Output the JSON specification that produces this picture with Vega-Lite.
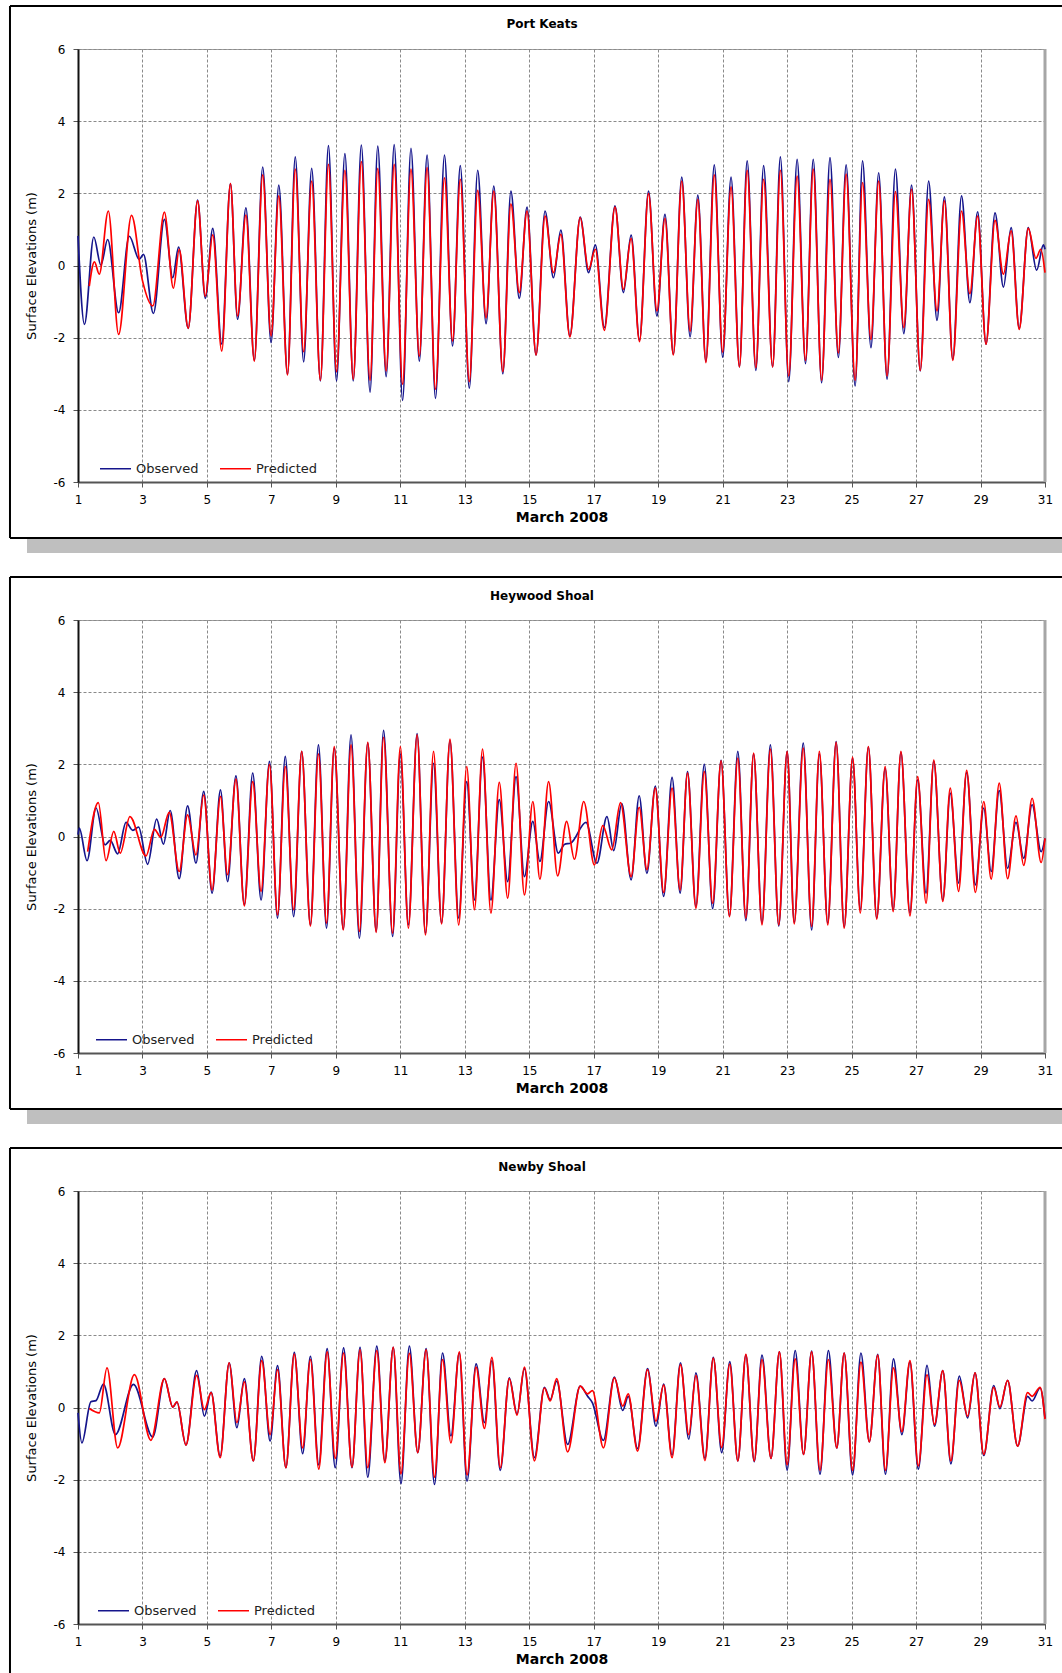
{
"$schema":"https://vega.github.io/schema/vega-lite/v6.json",
"background":"white",
"padding":{"left":8,"top":4,"right":0,"bottom":0},
"spacing":138,
"bounds":"flush",
"resolve":{"scale":{"color":"independent"},"legend":{"color":"independent"}},
"config":{"font":"DejaVu Sans","view":{"stroke":"#a0a0a0","strokeWidth":1},
"axis":{"grid":true,"labelFontSize":12,"labelColor":"#000","titleColor":"#000","tickSize":5,"tickColor":"#555","domainColor":"#555","domainWidth":2,"gridColor":"#8a8a8a","gridDash":[3,2],"gridWidth":1,"labelFlush":false,"labelOverlap":false,"labelExpr":"''+datum.value"},
"axisX":{"labelPadding":7,"titlePadding":5,"titleFontSize":14,"titleFontWeight":"bold"},
"axisY":{"labelPadding":8,"titlePadding":15,"titleFontSize":13,"titleFontWeight":"normal","domainColor":"#111"},
"legend":{"labelFontSize":13,"labelColor":"#222","symbolType":"stroke","symbolSize":961,"symbolStrokeWidth":1.5,"labelOffset":4,"columnPadding":18,"padding":0}},
"datasets":{
"pk":[{"d":1,"o":0.82},{"d":1.2,"o":-1.63},{"d":1.49,"o":0.79},{"d":1.71,"o":0.01},{"d":1.92,"o":0.72},{"d":2.26,"o":-1.31},{"d":2.59,"o":0.81},{"d":2.9,"o":0.17},{"d":3.03,"o":0.31},{"d":3.34,"o":-1.33},{"d":3.68,"o":1.28},{"d":3.94,"o":-0.34},{"d":4.12,"o":0.51},
{"d":1.35,"p":-0.57},{"d":1.51,"p":0.1},{"d":1.66,"p":-0.24},{"d":1.94,"p":1.51},{"d":2.26,"p":-1.91},{"d":2.66,"p":1.39},{"d":3.0,"p":-0.42},{"d":3.32,"p":-1.12},{"d":3.68,"p":1.48},{"d":3.96,"p":-0.63},{"d":4.14,"p":0.45},
{"d":4.42,"o":-1.74,"p":-1.74},{"d":4.71,"o":1.81,"p":1.79},{"d":4.95,"o":-0.91,"p":-0.85},{"d":5.18,"o":1.03,"p":0.85},{"d":5.46,"o":-2.18,"p":-2.37},{"d":5.73,"o":2.27,"p":2.27},{"d":5.95,"o":-1.49,"p":-1.4},{"d":6.21,"o":1.6,"p":1.4},{"d":6.47,"o":-2.63,"p":-2.65},{"d":6.73,"o":2.73,"p":2.51},{"d":6.99,"o":-2.14,"p":-1.95},{"d":7.23,"o":2.23,"p":1.93},{"d":7.5,"o":-3.02,"p":-3.03},{"d":7.74,"o":3.01,"p":2.67},{"d":8.0,"o":-2.67,"p":-2.39},{"d":8.25,"o":2.69,"p":2.34},{"d":8.52,"o":-3.2,"p":-3.18},{"d":8.77,"o":3.32,"p":2.8},{"d":9.02,"o":-3.2,"p":-2.94},{"d":9.28,"o":3.1,"p":2.64},{"d":9.54,"o":-3.2,"p":-3.15},{"d":9.79,"o":3.34,"p":2.88},{"d":10.06,"o":-3.51,"p":-3.18},{"d":10.3,"o":3.31,"p":2.69},{"d":10.56,"o":-3.08,"p":-2.92},{"d":10.81,"o":3.35,"p":2.8},{"d":11.07,"o":-3.74,"p":-3.29},{"d":11.33,"o":3.25,"p":2.67},{"d":11.59,"o":-2.65,"p":-2.51},{"d":11.83,"o":3.06,"p":2.71},{"d":12.09,"o":-3.68,"p":-3.43},{"d":12.37,"o":3.06,"p":2.43},{"d":12.62,"o":-2.23,"p":-2.09},{"d":12.86,"o":2.77,"p":2.39},{"d":13.14,"o":-3.4,"p":-3.22},{"d":13.4,"o":2.64,"p":2.08},{"d":13.66,"o":-1.61,"p":-1.45},{"d":13.9,"o":2.2,"p":2.06},{"d":14.18,"o":-3.0,"p":-2.94},{"d":14.43,"o":2.06,"p":1.71},{"d":14.69,"o":-0.91,"p":-0.75},{"d":14.93,"o":1.62,"p":1.51},{"d":15.21,"o":-2.48,"p":-2.48},{"d":15.49,"o":1.51,"p":1.37},{"d":15.75,"o":-0.34,"p":-0.2},{"d":15.98,"o":0.98,"p":0.86},{"d":16.26,"o":-1.95,"p":-1.98},{"d":16.58,"o":1.34,"p":1.33},{"d":16.84,"o":-0.2,"p":-0.11},{"d":17.05,"o":0.57,"p":0.45},{"d":17.33,"o":-1.72,"p":-1.8},{"d":17.66,"o":1.65,"p":1.62},{"d":17.92,"o":-0.75,"p":-0.66},{"d":18.16,"o":0.84,"p":0.75},{"d":18.42,"o":-2.07,"p":-2.11},{"d":18.7,"o":2.06,"p":1.99},{"d":18.96,"o":-1.4,"p":-1.26},{"d":19.21,"o":1.42,"p":1.31},{"d":19.47,"o":-2.46,"p":-2.48},{"d":19.73,"o":2.45,"p":2.34},{"d":19.99,"o":-1.98,"p":-1.82},{"d":20.23,"o":1.95,"p":1.83},{"d":20.48,"o":-2.66,"p":-2.69},{"d":20.74,"o":2.79,"p":2.51},{"d":21.0,"o":-2.54,"p":-2.4},{"d":21.26,"o":2.45,"p":2.18},{"d":21.52,"o":-2.81,"p":-2.81},{"d":21.76,"o":2.9,"p":2.64},{"d":22.03,"o":-2.91,"p":-2.83},{"d":22.27,"o":2.77,"p":2.39},{"d":22.55,"o":-2.81,"p":-2.81},{"d":22.79,"o":3.01,"p":2.64},{"d":23.05,"o":-3.22,"p":-3.06},{"d":23.31,"o":2.94,"p":2.48},{"d":23.57,"o":-2.72,"p":-2.63},{"d":23.81,"o":2.94,"p":2.67},{"d":24.07,"o":-3.25,"p":-3.18},{"d":24.33,"o":2.99,"p":2.39},{"d":24.59,"o":-2.55,"p":-2.42},{"d":24.83,"o":2.79,"p":2.53},{"d":25.11,"o":-3.34,"p":-3.18},{"d":25.34,"o":2.9,"p":2.3},{"d":25.6,"o":-2.28,"p":-2.05},{"d":25.84,"o":2.57,"p":2.34},{"d":26.1,"o":-3.15,"p":-3.06},{"d":26.36,"o":2.67,"p":2.05},{"d":26.62,"o":-1.89,"p":-1.72},{"d":26.86,"o":2.23,"p":2.11},{"d":27.13,"o":-2.92,"p":-2.91},{"d":27.39,"o":2.34,"p":1.83},{"d":27.65,"o":-1.52,"p":-1.26},{"d":27.88,"o":1.9,"p":1.79},{"d":28.14,"o":-2.6,"p":-2.63},{"d":28.41,"o":1.93,"p":1.51},{"d":28.67,"o":-1.03,"p":-0.78},{"d":28.91,"o":1.49,"p":1.37},{"d":29.17,"o":-2.18,"p":-2.18},{"d":29.45,"o":1.46,"p":1.25},{"d":29.71,"o":-0.6,"p":-0.24},{"d":29.95,"o":1.05,"p":0.96},{"d":30.2,"o":-1.74,"p":-1.77},{"d":30.48,"o":1.05,"p":1.03},
{"d":30.74,"o":-0.13},{"d":30.95,"o":0.57},{"d":31.0,"o":0.45},{"d":30.72,"p":0.2},{"d":30.87,"p":0.45},{"d":31.0,"p":-0.2}],
"hs":[{"d":1.0,"o":0.05},{"d":1.04,"o":0.23},{"d":1.28,"o":-0.67},{"d":1.56,"o":0.79},{"d":1.84,"o":-0.23},{"d":2.0,"o":-0.11},{"d":2.23,"o":-0.48},{"d":2.49,"o":0.39},{"d":2.7,"o":0.17},{"d":2.88,"o":0.26},{"d":3.16,"o":-0.77},{"d":3.44,"o":0.48},{"d":3.65,"o":-0.21},{"d":3.86,"o":0.72},
{"d":1.3,"p":-0.42},{"d":1.63,"p":0.94},{"d":1.87,"p":-0.67},{"d":2.11,"p":0.14},{"d":2.31,"p":-0.46},{"d":2.61,"p":0.55},{"d":3.11,"p":-0.54},{"d":3.37,"p":0.2},{"d":3.57,"p":-0.02},{"d":3.83,"p":0.67},
{"d":4.14,"o":-1.17,"p":-0.97},{"d":4.4,"o":0.85,"p":0.6},{"d":4.66,"o":-0.74,"p":-0.51},{"d":4.9,"o":1.25,"p":1.15},{"d":5.16,"o":-1.57,"p":-1.48},{"d":5.42,"o":1.29,"p":1.11},{"d":5.64,"o":-1.25,"p":-1.06},{"d":5.9,"o":1.68,"p":1.59},{"d":6.16,"o":-1.89,"p":-1.92},{"d":6.42,"o":1.76,"p":1.52},{"d":6.68,"o":-1.76,"p":-1.52},{"d":6.94,"o":2.08,"p":1.99},{"d":7.19,"o":-2.26,"p":-2.17},{"d":7.43,"o":2.22,"p":1.94},{"d":7.69,"o":-2.22,"p":-2.03},{"d":7.94,"o":2.36,"p":2.36},{"d":8.21,"o":-2.45,"p":-2.48},{"d":8.46,"o":2.54,"p":2.29},{"d":8.71,"o":-2.54,"p":-2.4},{"d":8.95,"o":2.45,"p":2.49},{"d":9.23,"o":-2.57,"p":-2.59},{"d":9.47,"o":2.82,"p":2.54},{"d":9.73,"o":-2.82,"p":-2.63},{"d":9.99,"o":2.59,"p":2.61},{"d":10.25,"o":-2.63,"p":-2.66},{"d":10.48,"o":2.94,"p":2.75},{"d":10.76,"o":-2.77,"p":-2.68},{"d":11.0,"o":2.29,"p":2.49},{"d":11.25,"o":-2.45,"p":-2.54},{"d":11.52,"o":2.85,"p":2.82},{"d":11.78,"o":-2.68,"p":-2.73},{"d":12.03,"o":2.03,"p":2.36},{"d":12.28,"o":-2.4,"p":-2.42},{"d":12.54,"o":2.66,"p":2.7},{"d":12.81,"o":-2.26,"p":-2.45},{"d":13.06,"o":1.52,"p":1.94},{"d":13.3,"o":-1.76,"p":-2.03},{"d":13.55,"o":2.2,"p":2.42},{"d":13.81,"o":-1.76,"p":-2.12},{"d":14.07,"o":1.02,"p":1.5},{"d":14.33,"o":-1.25,"p":-1.71},{"d":14.59,"o":1.66,"p":2.03},{"d":14.85,"o":-1.11,"p":-1.62},{"d":15.11,"o":0.42,"p":0.97},{"d":15.33,"o":-0.69,"p":-1.18},{"d":15.6,"o":0.97,"p":1.52},
{"d":15.9,"o":-0.46},{"d":16.09,"o":-0.22},{"d":16.29,"o":-0.18},{"d":16.76,"o":0.39},{"d":17.1,"o":-0.74},{"d":17.41,"o":0.55},{"d":17.62,"o":-0.39},{"d":17.87,"o":0.91},
{"d":15.88,"p":-1.09},{"d":16.16,"p":0.42},{"d":16.4,"p":-0.63},{"d":16.69,"p":0.97},{"d":17.02,"p":-0.79},{"d":17.28,"p":0.3},{"d":17.56,"p":-0.37},{"d":17.83,"p":0.94},
{"d":18.16,"o":-1.2,"p":-1.11},{"d":18.41,"o":1.13,"p":0.81},{"d":18.65,"o":-1.02,"p":-0.92},{"d":18.91,"o":1.4,"p":1.34},{"d":19.17,"o":-1.66,"p":-1.55},{"d":19.43,"o":1.64,"p":1.34},{"d":19.68,"o":-1.57,"p":-1.48},{"d":19.91,"o":1.8,"p":1.76},{"d":20.17,"o":-1.94,"p":-1.99},{"d":20.43,"o":2.0,"p":1.8},{"d":20.69,"o":-2.0,"p":-1.85},{"d":20.95,"o":2.11,"p":2.1},{"d":21.21,"o":-2.2,"p":-2.22},{"d":21.47,"o":2.36,"p":2.17},{"d":21.72,"o":-2.33,"p":-2.26},{"d":21.96,"o":2.29,"p":2.31},{"d":22.22,"o":-2.4,"p":-2.45},{"d":22.48,"o":2.54,"p":2.42},{"d":22.74,"o":-2.48,"p":-2.45},{"d":23.0,"o":2.36,"p":2.36},{"d":23.22,"o":-2.38,"p":-2.42},{"d":23.5,"o":2.59,"p":2.45},{"d":23.76,"o":-2.59,"p":-2.49},{"d":24.0,"o":2.29,"p":2.36},{"d":24.26,"o":-2.4,"p":-2.45},{"d":24.52,"o":2.63,"p":2.61},{"d":24.77,"o":-2.51,"p":-2.54},{"d":25.03,"o":2.17,"p":2.2},{"d":25.27,"o":-2.03,"p":-2.12},{"d":25.52,"o":2.48,"p":2.49},{"d":25.78,"o":-2.26,"p":-2.29},{"d":26.04,"o":1.89,"p":1.94},{"d":26.29,"o":-2.03,"p":-2.08},{"d":26.53,"o":2.33,"p":2.36},{"d":26.81,"o":-2.12,"p":-2.2},{"d":27.05,"o":1.57,"p":1.66},{"d":27.31,"o":-1.57,"p":-1.85},{"d":27.55,"o":2.08,"p":2.12},{"d":27.83,"o":-1.76,"p":-1.8},{"d":28.06,"o":1.2,"p":1.34},{"d":28.32,"o":-1.29,"p":-1.52},{"d":28.57,"o":1.77,"p":1.83},{"d":28.84,"o":-1.34,"p":-1.55},{"d":29.1,"o":0.79,"p":0.97},{"d":29.33,"o":-0.97,"p":-1.18},{"d":29.58,"o":1.27,"p":1.48},{"d":29.84,"o":-0.88,"p":-1.17},{"d":30.1,"o":0.39,"p":0.57},{"d":30.34,"o":-0.6,"p":-0.8},{"d":30.6,"o":0.88,"p":1.06},{"d":30.88,"o":-0.42,"p":-0.72},{"d":31.0,"o":-0.05,"p":-0.05}],
"ns":[{"d":1.0,"o":-0.15},{"d":1.12,"o":-0.98},{"d":1.4,"o":0.16},{"d":1.56,"o":0.19},{"d":1.79,"o":0.65},{"d":2.16,"o":-0.75},{"d":2.72,"o":0.64},{"d":3.32,"o":-0.82},
{"d":1.35,"p":-0.03},{"d":1.66,"p":-0.15},{"d":1.9,"p":1.1},{"d":2.23,"p":-1.12},{"d":2.75,"p":0.91},{"d":3.26,"p":-0.91},
{"d":3.68,"o":0.8,"p":0.8},{"d":3.94,"o":0.01,"p":0.01},{"d":4.07,"o":0.15,"p":0.16},{"d":4.35,"o":-1.04,"p":-1.04},{"d":4.68,"o":1.02,"p":0.89},{"d":4.92,"o":-0.24,"p":-0.06},{"d":5.13,"o":0.43,"p":0.41},{"d":5.41,"o":-1.35,"p":-1.39},{"d":5.69,"o":1.24,"p":1.24},{"d":5.93,"o":-0.56,"p":-0.42},{"d":6.16,"o":0.8,"p":0.71},{"d":6.44,"o":-1.48,"p":-1.48},{"d":6.7,"o":1.42,"p":1.3},{"d":6.96,"o":-0.93,"p":-0.75},{"d":7.19,"o":1.16,"p":1.05},{"d":7.45,"o":-1.67,"p":-1.67},{"d":7.71,"o":1.53,"p":1.48},{"d":7.97,"o":-1.28,"p":-1.12},{"d":8.21,"o":1.42,"p":1.33},{"d":8.47,"o":-1.59,"p":-1.71},{"d":8.73,"o":1.63,"p":1.54},{"d":8.98,"o":-1.67,"p":-1.41},{"d":9.24,"o":1.65,"p":1.51},{"d":9.5,"o":-1.67,"p":-1.65},{"d":9.75,"o":1.67,"p":1.6},{"d":9.99,"o":-1.93,"p":-1.67},{"d":10.27,"o":1.7,"p":1.58},{"d":10.52,"o":-1.48,"p":-1.53},{"d":10.78,"o":1.67,"p":1.67},{"d":11.02,"o":-2.11,"p":-1.84},{"d":11.28,"o":1.7,"p":1.5},{"d":11.54,"o":-1.25,"p":-1.25},{"d":11.8,"o":1.63,"p":1.6},{"d":12.06,"o":-2.13,"p":-1.93},{"d":12.31,"o":1.51,"p":1.33},{"d":12.57,"o":-0.79,"p":-0.98},{"d":12.83,"o":1.51,"p":1.54},{"d":13.07,"o":-2.04,"p":-1.87},{"d":13.35,"o":1.21,"p":1.12},{"d":13.61,"o":-0.42,"p":-0.58},{"d":13.84,"o":1.3,"p":1.39},{"d":14.1,"o":-1.74,"p":-1.67},{"d":14.38,"o":0.82,"p":0.8},{"d":14.62,"o":-0.18,"p":-0.21},{"d":14.85,"o":1.08,"p":1.12},{"d":15.16,"o":-1.39,"p":-1.48},{"d":15.47,"o":0.56,"p":0.54},{"d":15.65,"o":0.22,"p":0.18},{"d":15.85,"o":0.73,"p":0.8},{"d":16.19,"o":-1.02,"p":-1.23},{"d":16.58,"o":0.59,"p":0.59},{"d":16.81,"o":0.31,"p":0.38},{"d":16.96,"o":0.13,"p":0.47},{"d":17.3,"o":-0.91,"p":-1.12},{"d":17.64,"o":0.84,"p":0.82},{"d":17.9,"o":-0.08,"p":0.04},{"d":18.07,"o":0.31,"p":0.38},{"d":18.36,"o":-1.14,"p":-1.21},{"d":18.67,"o":1.08,"p":1.05},{"d":18.93,"o":-0.52,"p":-0.38},{"d":19.17,"o":0.65,"p":0.62},{"d":19.43,"o":-1.32,"p":-1.39},{"d":19.69,"o":1.24,"p":1.19},{"d":19.95,"o":-0.88,"p":-0.75},{"d":20.17,"o":0.96,"p":0.89},{"d":20.45,"o":-1.41,"p":-1.47},{"d":20.71,"o":1.39,"p":1.37},{"d":20.97,"o":-1.25,"p":-1.11},{"d":21.22,"o":1.27,"p":1.2},{"d":21.47,"o":-1.48,"p":-1.48},{"d":21.72,"o":1.45,"p":1.47},{"d":21.98,"o":-1.5,"p":-1.48},{"d":22.22,"o":1.45,"p":1.33},{"d":22.5,"o":-1.41,"p":-1.41},{"d":22.76,"o":1.54,"p":1.54},{"d":23.0,"o":-1.74,"p":-1.59},{"d":23.25,"o":1.58,"p":1.35},{"d":23.51,"o":-1.3,"p":-1.3},{"d":23.76,"o":1.56,"p":1.54},{"d":24.02,"o":-1.85,"p":-1.74},{"d":24.28,"o":1.58,"p":1.33},{"d":24.54,"o":-1.12,"p":-1.12},{"d":24.77,"o":1.51,"p":1.51},{"d":25.03,"o":-1.87,"p":-1.74},{"d":25.29,"o":1.51,"p":1.26},{"d":25.55,"o":-0.95,"p":-0.95},{"d":25.81,"o":1.47,"p":1.45},{"d":26.05,"o":-1.85,"p":-1.74},{"d":26.3,"o":1.35,"p":1.1},{"d":26.56,"o":-0.75,"p":-0.67},{"d":26.81,"o":1.26,"p":1.3},{"d":27.07,"o":-1.71,"p":-1.62},{"d":27.34,"o":1.17,"p":0.91},{"d":27.57,"o":-0.52,"p":-0.47},{"d":27.83,"o":1.02,"p":1.02},{"d":28.08,"o":-1.56,"p":-1.48},{"d":28.34,"o":0.87,"p":0.75},{"d":28.6,"o":-0.29,"p":-0.24},{"d":28.83,"o":0.96,"p":0.96},{"d":29.1,"o":-1.33,"p":-1.3},{"d":29.41,"o":0.61,"p":0.56},{"d":29.6,"o":-0.03,"p":0.01},{"d":29.84,"o":0.75,"p":0.75},{"d":30.15,"o":-1.07,"p":-1.07},{"d":30.46,"o":0.31,"p":0.41},{"d":30.6,"o":0.18,"p":0.31},{"d":30.85,"o":0.54,"p":0.56},{"d":31.0,"o":-0.3,"p":-0.32}]
},
"vconcat":[
{"width":967,"height":433,"layer":[
{"data":{"values":[{}]},"mark":{"type":"rect","fill":"#bfbfbf","clip":false},"encoding":{"x":{"datum":-0.582,"type":"quantitative"},"x2":{"datum":31.54},"y":{"datum":-7.58,"type":"quantitative"},"y2":{"datum":-7.97}}},
{"data":{"values":[{}]},"mark":{"type":"rule","stroke":"#000","strokeWidth":2,"clip":false},"encoding":{"x":{"datum":-1.11,"type":"quantitative"},"x2":{"datum":31.527},"y":{"datum":7.19,"type":"quantitative"}}},
{"data":{"values":[{}]},"mark":{"type":"rule","stroke":"#000","strokeWidth":2,"clip":false},"encoding":{"x":{"datum":-1.11,"type":"quantitative"},"x2":{"datum":31.527},"y":{"datum":-7.552,"type":"quantitative"}}},
{"data":{"values":[{}]},"mark":{"type":"rule","stroke":"#000","strokeWidth":2,"clip":false},"encoding":{"x":{"datum":-1.11,"type":"quantitative"},"y":{"datum":7.19,"type":"quantitative"},"y2":{"datum":-7.552}}},
{"data":{"values":[{}]},"mark":{"type":"rule","stroke":"#a6a6a6","strokeWidth":3},"encoding":{"x":{"datum":31,"type":"quantitative"},"y":{"datum":6,"type":"quantitative"},"y2":{"datum":-6}}},
{"data":{"values":[{"t":"Port Keats"}]},"mark":{"type":"text","fontSize":12,"fontWeight":"bold","clip":false,"baseline":"middle"},"encoding":{"x":{"datum":15.395,"type":"quantitative"},"y":{"datum":6.7,"type":"quantitative"},"text":{"field":"t"}}},
{"data":{"name":"pk"},"transform":[{"fold":["o","p"],"as":["s","v"]},{"filter":"isValid(datum.v)"}],"mark":{"type":"line","interpolate":"monotone","strokeWidth":1.7},
"encoding":{"x":{"field":"d","type":"quantitative","scale":{"domain":[1,31],"nice":false,"zero":false},"axis":{"title":"March 2008","grid":true,"values":[1,3,5,7,9,11,13,15,17,19,21,23,25,27,29,31]}},
"y":{"field":"v","type":"quantitative","scale":{"domain":[-6,6],"nice":false},"axis":{"title":"Surface Elevations (m)","grid":true,"values":[-6,-4,-2,0,2,4,6]}},
"color":{"field":"s","type":"nominal","scale":{"domain":["o","p"],"range":["#15158c","#ff0000"]},"legend":{"title":null,"orient":"none","direction":"horizontal","legendX":21,"legendY":403,"labelExpr":"datum.label=='o'?'Observed':'Predicted'"}}}}
]},
{"width":967,"height":433,"layer":[
{"data":{"values":[{}]},"mark":{"type":"rect","fill":"#bfbfbf","clip":false},"encoding":{"x":{"datum":-0.582,"type":"quantitative"},"x2":{"datum":31.54},"y":{"datum":-7.58,"type":"quantitative"},"y2":{"datum":-7.97}}},
{"data":{"values":[{}]},"mark":{"type":"rule","stroke":"#000","strokeWidth":2,"clip":false},"encoding":{"x":{"datum":-1.11,"type":"quantitative"},"x2":{"datum":31.527},"y":{"datum":7.19,"type":"quantitative"}}},
{"data":{"values":[{}]},"mark":{"type":"rule","stroke":"#000","strokeWidth":2,"clip":false},"encoding":{"x":{"datum":-1.11,"type":"quantitative"},"x2":{"datum":31.527},"y":{"datum":-7.552,"type":"quantitative"}}},
{"data":{"values":[{}]},"mark":{"type":"rule","stroke":"#000","strokeWidth":2,"clip":false},"encoding":{"x":{"datum":-1.11,"type":"quantitative"},"y":{"datum":7.19,"type":"quantitative"},"y2":{"datum":-7.552}}},
{"data":{"values":[{}]},"mark":{"type":"rule","stroke":"#a6a6a6","strokeWidth":3},"encoding":{"x":{"datum":31,"type":"quantitative"},"y":{"datum":6,"type":"quantitative"},"y2":{"datum":-6}}},
{"data":{"values":[{"t":"Heywood Shoal"}]},"mark":{"type":"text","fontSize":12,"fontWeight":"bold","clip":false,"baseline":"middle"},"encoding":{"x":{"datum":15.395,"type":"quantitative"},"y":{"datum":6.66,"type":"quantitative"},"text":{"field":"t"}}},
{"data":{"name":"hs"},"transform":[{"fold":["o","p"],"as":["s","v"]},{"filter":"isValid(datum.v)"}],"mark":{"type":"line","interpolate":"monotone","strokeWidth":1.7},
"encoding":{"x":{"field":"d","type":"quantitative","scale":{"domain":[1,31],"nice":false,"zero":false},"axis":{"title":"March 2008","grid":true,"values":[1,3,5,7,9,11,13,15,17,19,21,23,25,27,29,31]}},
"y":{"field":"v","type":"quantitative","scale":{"domain":[-6,6],"nice":false},"axis":{"title":"Surface Elevations (m)","grid":true,"values":[-6,-4,-2,0,2,4,6]}},
"color":{"field":"s","type":"nominal","scale":{"domain":["o","p"],"range":["#15158c","#ff0000"]},"legend":{"title":null,"orient":"none","direction":"horizontal","legendX":17,"legendY":403,"labelExpr":"datum.label=='o'?'Observed':'Predicted'"}}}}
]},
{"width":967,"height":433,"layer":[
{"data":{"values":[{}]},"mark":{"type":"rule","stroke":"#000","strokeWidth":2,"clip":false},"encoding":{"x":{"datum":-1.11,"type":"quantitative"},"x2":{"datum":31.527},"y":{"datum":7.19,"type":"quantitative"}}},
{"data":{"values":[{}]},"mark":{"type":"rule","stroke":"#000","strokeWidth":2,"clip":false},"encoding":{"x":{"datum":-1.11,"type":"quantitative"},"y":{"datum":7.19,"type":"quantitative"},"y2":{"datum":-7.358}}},
{"data":{"values":[{}]},"mark":{"type":"rule","stroke":"#a6a6a6","strokeWidth":3},"encoding":{"x":{"datum":31,"type":"quantitative"},"y":{"datum":6,"type":"quantitative"},"y2":{"datum":-6}}},
{"data":{"values":[{"t":"Newby Shoal"}]},"mark":{"type":"text","fontSize":12,"fontWeight":"bold","clip":false,"baseline":"middle"},"encoding":{"x":{"datum":15.395,"type":"quantitative"},"y":{"datum":6.66,"type":"quantitative"},"text":{"field":"t"}}},
{"data":{"name":"ns"},"transform":[{"fold":["o","p"],"as":["s","v"]},{"filter":"isValid(datum.v)"}],"mark":{"type":"line","interpolate":"monotone","strokeWidth":1.7},
"encoding":{"x":{"field":"d","type":"quantitative","scale":{"domain":[1,31],"nice":false,"zero":false},"axis":{"title":"March 2008","grid":true,"values":[1,3,5,7,9,11,13,15,17,19,21,23,25,27,29,31]}},
"y":{"field":"v","type":"quantitative","scale":{"domain":[-6,6],"nice":false},"axis":{"title":"Surface Elevations (m)","grid":true,"values":[-6,-4,-2,0,2,4,6]}},
"color":{"field":"s","type":"nominal","scale":{"domain":["o","p"],"range":["#15158c","#ff0000"]},"legend":{"title":null,"orient":"none","direction":"horizontal","legendX":19,"legendY":403,"labelExpr":"datum.label=='o'?'Observed':'Predicted'"}}}}
]}
]
}
